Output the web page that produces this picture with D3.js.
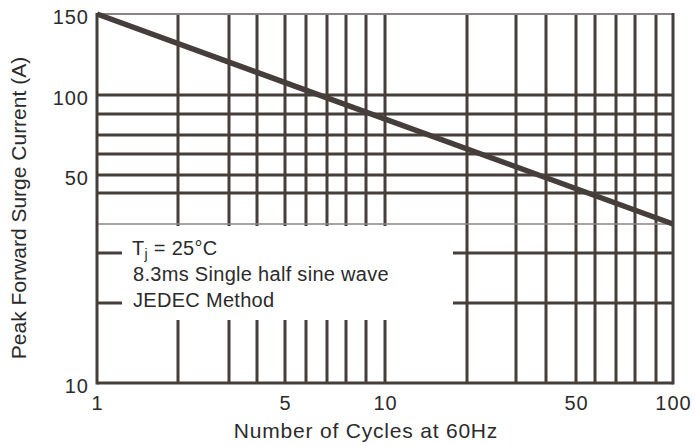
<!DOCTYPE html>
<html>
<head>
<meta charset="utf-8">
<script src="https://cdn.jsdelivr.net/npm/d3@7"></script>
<style>
  html, body { margin: 0; padding: 0; background: #fff; }
  text { font-family: "Liberation Sans", Arial, sans-serif; fill: #2b2b2b; }
</style>
</head>
<body>
<svg id="chart" width="695" height="446"></svg>
<script>
// ---- data ----
const cycles = [1, 100];            // number of cycles at 60Hz
const surgeCurrent = [150, 30];     // peak forward surge current (A)

const xTickValues = [1, 5, 10, 50, 100];
const yTickValues = [10, 50, 100, 150];
const xGridValues = [2, 3, 4, 5, 6, 7, 8, 9, 10, 20, 30, 40, 50, 60, 70, 80, 90];
const yGridValues = [15, 20, 40, 50, 60, 70, 80, 100];
const yGridLightValues = [30];
const legendLines = ["8.3ms Single half sine wave", "JEDEC Method"];

// ---- printed (hand-drawn) log axes: piecewise log scales ----
const x = d3.scaleLog()
  .domain([1, 2, 3, 4, 5, 6, 7, 8, 9, 10, 20, 30, 40, 50, 60, 70, 80, 90, 100])
  .range([97, 178, 229, 257, 285, 306, 327, 346, 366, 385, 467, 516, 546, 576, 595, 616, 635, 656, 673]);
const y = d3.scaleLog()
  .domain([10, 15, 20, 30, 40, 50, 60, 70, 80, 100, 150])
  .range([383, 303, 253, 224, 193, 175, 154, 135, 114, 95, 14]);

const svg = d3.select("#chart");
const ink = "#463e3b";
const x0 = x(1), x1 = x(100), yTop = y(150), yBot = y(10);

// grid lines
const g = svg.append("g");
g.selectAll("line.v").data(xGridValues).join("line")
  .attr("x1", d => x(d)).attr("x2", d => x(d))
  .attr("y1", yTop).attr("y2", yBot)
  .attr("stroke", ink).attr("stroke-width", 3);
g.selectAll("line.h").data(yGridValues).join("line")
  .attr("x1", x0).attr("x2", x1)
  .attr("y1", d => y(d)).attr("y2", d => y(d))
  .attr("stroke", ink).attr("stroke-width", 3);

// legend box (white background hiding the grid)
const legX = 122, legY = 226, legW = 331, legH = 94;
svg.append("rect").attr("x", legX).attr("y", legY).attr("width", legW).attr("height", legH).attr("fill", "#fff");

svg.selectAll("line.hl").data(yGridLightValues).join("line")
  .attr("x1", x0).attr("x2", x1)
  .attr("y1", d => y(d)).attr("y2", d => y(d))
  .attr("stroke", "#8a8584").attr("stroke-width", 1.5);

// frame
svg.append("line").attr("x1", x0).attr("x2", x1).attr("y1", yTop).attr("y2", yTop)
  .attr("stroke", "#8a8584").attr("stroke-width", 2);
svg.append("line").attr("x1", x0).attr("x2", x1).attr("y1", yBot).attr("y2", yBot)
  .attr("stroke", ink).attr("stroke-width", 3);
svg.append("line").attr("x1", x0).attr("x2", x0).attr("y1", yTop - 1).attr("y2", yBot + 1.5)
  .attr("stroke", ink).attr("stroke-width", 3);
svg.append("line").attr("x1", x1).attr("x2", x1).attr("y1", yTop - 1).attr("y2", yBot + 1.5)
  .attr("stroke", ink).attr("stroke-width", 3);

// curve
const pts = cycles.map((c, i) => [c, surgeCurrent[i]]);
svg.append("path").datum(pts)
  .attr("d", d3.line().x(d => x(d[0])).y(d => y(d[1])))
  .attr("fill", "none").attr("stroke", ink).attr("stroke-width", 5.5)
  .attr("stroke-linecap", "butt");

// axes (labels only)
const xAxis = svg.append("g").attr("transform", `translate(0,${yBot + 10})`)
  .call(d3.axisBottom(x).tickValues(xTickValues).tickFormat(d3.format("d")).tickSize(0));
xAxis.select(".domain").remove();
xAxis.selectAll("text").attr("font-size", 20).attr("letter-spacing", 1).attr("dy", "0.71em")
  .style("font-family", "Liberation Sans, Arial, sans-serif").attr("fill", "#2b2b2b");

const yAxis = svg.append("g").attr("transform", `translate(${x0 - 8},0)`)
  .call(d3.axisLeft(y).tickValues(yTickValues).tickFormat(d3.format("d")).tickSize(0));
yAxis.select(".domain").remove();
yAxis.selectAll("text").attr("font-size", 20).attr("letter-spacing", 1).attr("x", 0).attr("dy", "0.45em")
  .style("font-family", "Liberation Sans, Arial, sans-serif").attr("fill", "#2b2b2b");

// axis titles
svg.append("text").attr("x", 366).attr("y", 438).attr("text-anchor", "middle")
  .attr("font-size", 21).attr("letter-spacing", 0.8).text("Number of Cycles at 60Hz");
svg.append("text").attr("transform", "translate(26,208) rotate(-90)").attr("text-anchor", "middle")
  .attr("font-size", 21).text("Peak Forward Surge Current (A)");

// legend text
const lt = svg.append("text").attr("x", 132).attr("y", 255).attr("font-size", 20).attr("letter-spacing", 0.3);
lt.append("tspan").text("T");
lt.append("tspan").attr("font-size", 14).attr("dy", 4).text("j");
lt.append("tspan").attr("dy", -4).text(" = 25°C");
svg.selectAll("text.leg").data(legendLines).join("text").attr("class", "leg")
  .attr("x", 133).attr("y", (d, i) => 281 + i * 26).attr("font-size", 20).attr("letter-spacing", 0.3).text(d => d);
</script>
</body>
</html>
